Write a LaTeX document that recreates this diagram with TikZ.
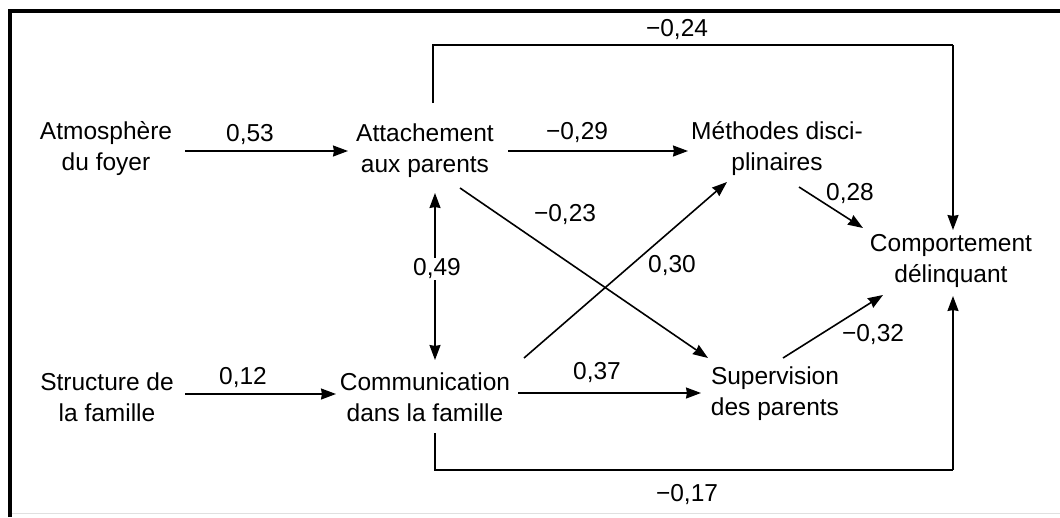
\documentclass[tikz,border=0pt]{standalone}
\usepackage{fontspec}
\setmainfont{Liberation Sans}
\usetikzlibrary{arrows.meta}
\begin{document}
\begin{tikzpicture}[x=1pt,y=-1pt,
  every node/.style={font=\fontsize{24.5}{31}\selectfont},
  var/.style={align=center, inner sep=0pt},
  lab/.style={inner sep=1pt},
  conn/.style={line width=1.6pt, -{Stealth[length=15pt,width=11pt,inset=1pt]}},
  dconn/.style={line width=1.6pt, {Stealth[length=15pt,width=11pt,inset=1pt]}-{Stealth[length=15pt,width=11pt,inset=1pt]}},
  plain/.style={line width=1.6pt}]
\useasboundingbox (0,0) rectangle (1060,517);
\fill[white] (0,0) rectangle (1060,517);
% frame
\draw[line width=4pt] (10,517) -- (10,11) -- (1060,11);
\draw[line width=1pt, black!12] (12,513) -- (1060,513);
% variables
\node[var] (atm) at (106,149) {Atmosphère\\du foyer};
\node[var] (att) at (425,151) {Attachement\\aux parents};
\node[var] (met) at (777,149) {Méthodes disci-\\plinaires};
\node[var] (com) at (951,261) {Comportement\\délinquant};
\node[var] (str) at (107,397) {Structure de\\la famille};
\node[var] (cmf) at (425,397) {Communication\\dans la famille};
\node[var] (sup) at (775,394) {Supervision\\des parents};
% connector end points beside the nodes
\coordinate (atmOut) at (185,151);  \coordinate (attIn) at (348,151);
\coordinate (attOut) at (508,151);  \coordinate (metIn) at (688,151);
\coordinate (strOut) at (185,394);  \coordinate (cmfIn) at (336,394);
\coordinate (cmfOut) at (518,393);  \coordinate (supIn) at (701,393);
\coordinate (metOut) at (799,187);  \coordinate (comInA) at (863,228);
\coordinate (supOut) at (783,358);  \coordinate (comInB) at (883,295);
\coordinate (attDiag) at (460,188); \coordinate (supDiag) at (708,358);
\coordinate (cmfDiag) at (524,358); \coordinate (metDiag) at (727,182);
\coordinate (attBot) at (435,193);  \coordinate (cmfTop) at (435,360);
\coordinate (attTop) at (433,103);
\coordinate (tl) at (433,45);
\coordinate (tr) at (953,45);
\coordinate (comTop) at (953,230);
\coordinate (cmfBot) at (435,433);
\coordinate (bl) at (435,470);
\coordinate (br) at (953,470);
\coordinate (comBot) at (953,296);
% straight connectors
\draw[conn] (atmOut) -- (attIn);
\node[lab] (l053) at (250,135) {0,53};
\draw[conn] (attOut) -- (metIn);
\node[lab] (l029) at (577,133) {−0,29};
\draw[conn] (strOut) -- (cmfIn);
\node[lab] (l012) at (243,378) {0,12};
\draw[conn] (cmfOut) -- (supIn);
\node[lab] (l037) at (597,373) {0,37};
\draw[conn] (metOut) -- (comInA);
\node[lab] (l028) at (850,194) {0,28};
\draw[conn] (supOut) -- (comInB);
\node[lab] (l032) at (873,335) {−0,32};
\draw[conn] (attDiag) -- (supDiag);
\node[lab] (l023) at (565,215) {−0,23};
\draw[conn] (cmfDiag) -- (metDiag);
\node[lab] (l030) at (672,266) {0,30};
% double arrow 0,49
\draw[dconn] (attBot) -- (cmfTop);
\node[lab, fill=white] (l049) at (437,269) {0,49};
% routed connectors
\draw[plain] (attTop) -- (tl) -- (tr);
\draw[conn] (tr) -- (comTop);
\node[lab] (l024) at (677,30) {−0,24};
\draw[plain] (cmfBot) -- (bl) -- (br);
\draw[conn] (br) -- (comBot);
\node[lab] (l017) at (687,495) {−0,17};
\end{tikzpicture}
\end{document}
